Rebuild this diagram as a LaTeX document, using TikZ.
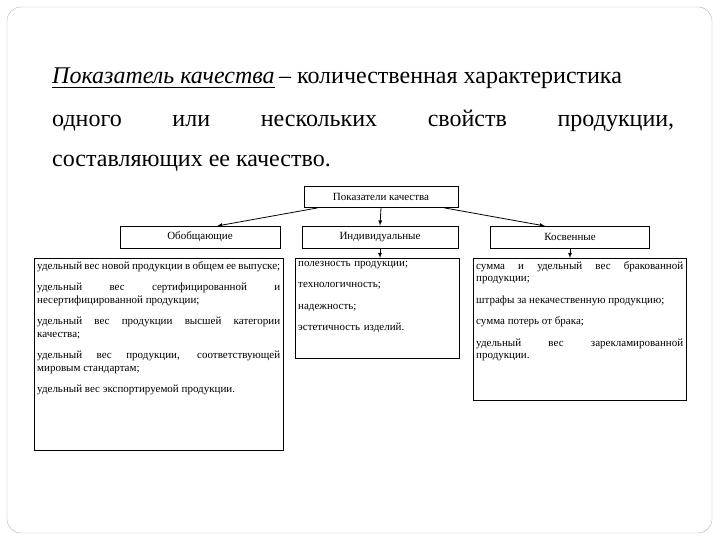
\documentclass[tikz,border=0pt]{standalone}
\usepackage{fontspec}
\setmainfont{Liberation Serif}
\begin{document}
\begin{tikzpicture}[x=1pt,y=-1pt,
  hd/.style={draw,thick,minimum height=21pt,inner sep=0pt,font=\fontsize{11}{12}\selectfont},
  tx/.style={anchor=north west,inner sep=3pt,align=justify,font=\fontsize{11}{12.5}\selectfont},
  big/.style={font=\fontsize{24}{28}\selectfont,inner sep=0pt},
  ar/.style={thick,-latex}]
\useasboundingbox (0,0) rectangle (720,540);
\draw[gray!60,rounded corners=14pt] (7,7) rectangle (712,533);
\node[big,anchor=base west] (t0) at (52,84) {\textit{Показатель качества }};
\node[big,anchor=base west] (t1) at (t0.base east) {\,– количественная характеристика};
\draw (t0.base west)++(0,3) -- ([yshift=-3pt]t0.base east);
\node[big,anchor=base west,text width=622pt] (t2) at (52,127) {одного \hfill или \hfill нескольких \hfill свойств \hfill продукции,};
\node[big,anchor=base west] (t3) at (52,167) {составляющих ее качество.};
\node[hd,minimum width=154pt] (top) at (381,197) {Показатели качества};
\node[hd,minimum width=160pt,minimum height=22pt] (a) at (200,237) {Обобщающие};
\node[hd,minimum width=156pt,minimum height=22pt] (b) at (380,237) {Индивидуальные};
\node[hd,minimum width=159pt,minimum height=22pt] (c) at (570,237) {Косвенные};
\node[tx,text width=243pt] (la) at (34,258) {удельный вес новой продукции в общем ее выпуске;\\[9pt]
удельный вес сертифицированной и несертифицированной продукции;\\[9pt]
удельный вес продукции высшей категории качества;\\[9pt]
удельный вес продукции, соответствующей мировым стандартам;\\[9pt]
удельный вес экспортируемой продукции.};
\draw[thick] (la.north west) rectangle ++(249,192);
\node[tx,align=left,text width=158pt] (lb) at (295,258) {полезность продукции;\\[9pt]технологичность;\\[9pt]надежность;\\[9pt]эстетичность изделий.};
\draw[thick] (lb.north west) rectangle ++(164,100);
\node[tx,text width=207pt] (lc) at (473,258) {сумма и удельный вес бракованной продукции;\\[9pt]
штрафы за некачественную продукцию;\\[9pt]
сумма потерь от брака;\\[9pt]
удельный вес зарекламированной продукции.};
\draw[thick] (lc.north west) rectangle ++(213,142);
\coordinate (pa) at (217,226);
\coordinate (pc) at (545,226);
\draw[ar] ([xshift=14pt]top.south west) -- (pa);
\draw[ar] (top.south) -- (b.north);
\draw[ar] ([xshift=-14pt]top.south east) -- (pc);
\draw[ar] (b.south) -- (b.south |- lb.north);
\draw[ar] (c.south) -- (c.south |- lc.north);
\end{tikzpicture}
\end{document}
